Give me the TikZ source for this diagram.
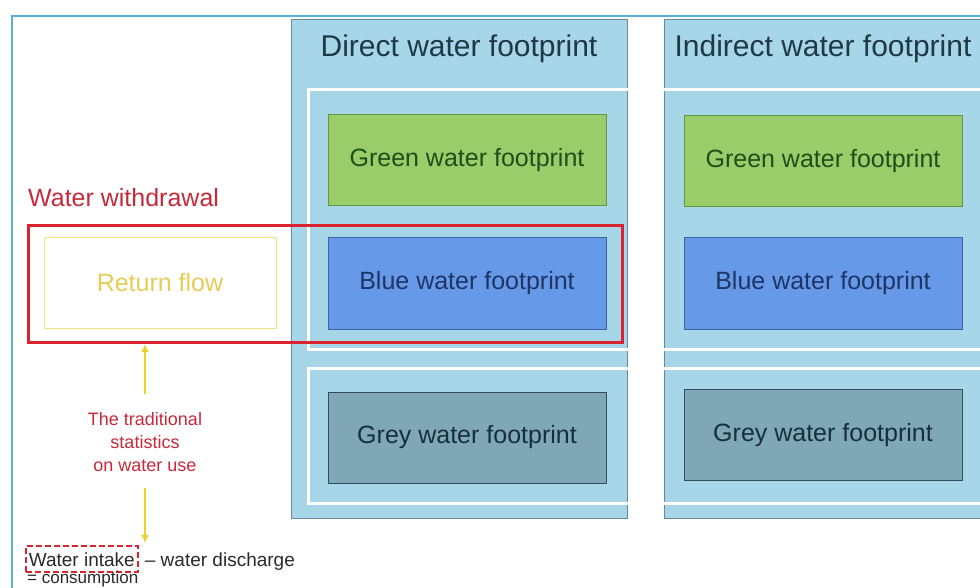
\documentclass[tikz,border=0pt]{standalone}
\usepackage{fontspec}
\setmainfont{Liberation Sans}
\usetikzlibrary{arrows.meta}
\definecolor{colbg}{HTML}{A6D6E8}
\definecolor{colborder}{HTML}{6B8A99}
\definecolor{gfill}{HTML}{9ACD6A}
\definecolor{gborder}{HTML}{5E9A40}
\definecolor{gtext}{HTML}{1F4E1A}
\definecolor{bfill}{HTML}{6699E8}
\definecolor{bborder}{HTML}{3A64A8}
\definecolor{btext}{HTML}{1E3566}
\definecolor{yfill}{HTML}{80A7B5}
\definecolor{yborder}{HTML}{2F4D5E}
\definecolor{ytext}{HTML}{15303C}
\definecolor{ttext}{HTML}{1E3A48}
\definecolor{redline}{HTML}{D9232E}
\definecolor{redtext}{HTML}{C62A3A}
\definecolor{yelline}{HTML}{F2E27A}
\definecolor{yeltext}{HTML}{E6CD55}
\definecolor{yelarrow}{HTML}{F0D030}
\definecolor{frameblue}{HTML}{5AAEE0}
\definecolor{dtext}{HTML}{2A2A2A}
\tikzset{
  colbox/.style={draw=colborder, line width=1pt, fill=colbg},
  whitebox/.style={draw=white, line width=3pt},
  fpbox/.style={rectangle, minimum width=278pt, minimum height=91pt, line width=1pt, inner sep=0pt, font=\fontsize{25}{30}\selectfont},
  greenbox/.style={fpbox, fill=gfill, draw=gborder, text=gtext},
  bluebox/.style={fpbox, fill=bfill, draw=bborder, text=btext},
  greybox/.style={fpbox, fill=yfill, draw=yborder, text=ytext},
  coltitle/.style={anchor=base, text=ttext, font=\fontsize{30}{36}\selectfont, inner sep=0pt},
  yelarr/.style={draw=yelarrow, line width=2pt, -{Latex[length=8pt,width=8pt]}},
  smalltext/.style={font=\fontsize{19}{23}\selectfont, text=dtext, inner sep=0pt}
}
\begin{document}
\begin{tikzpicture}[x=1pt,y=-1pt]
\useasboundingbox (0,0) rectangle (980,588);
\clip (0,0) rectangle (980,588);
\fill[white] (0,0) rectangle (980,588);
% outer frame
\draw[frameblue, line width=2pt] (12,16) rectangle (995,605);
% columns
\draw[colbox] (291,20) rectangle (627,518);
\draw[colbox] (664,20) rectangle (1000,518);
% white group frames
\draw[whitebox] (308,90) rectangle (1010,349);
\draw[whitebox] (308,368) rectangle (1010,503);
% titles
\node[coltitle] (tdirect) at (459,57) {Direct water footprint};
\node[coltitle] (tindirect) at (823,57) {Indirect water footprint};
% footprint boxes
\node[greenbox] (gd) at (467,160.5) {Green water footprint};
\node[bluebox]  (bd) at (467,283.5) {Blue water footprint};
\node[greybox]  (yd) at (467,437.5) {Grey water footprint};
\node[greenbox] (gi) at (823,161) {Green water footprint};
\node[bluebox]  (bi) at (823,283.5) {Blue water footprint};
\node[greybox]  (yi) at (823,435) {Grey water footprint};
% return flow
\node[rectangle, draw=yelline, line width=1pt, minimum width=232pt, minimum height=90pt, inner sep=0pt, text=yeltext, font=\fontsize{25}{30}\selectfont] (ret) at (160,283) {Return flow};
% withdrawal
\node[anchor=base west, text=redtext, font=\fontsize{25}{30}\selectfont, inner sep=0pt] (wlabel) at (28,207) {Water withdrawal};
\draw[redline, line width=3pt] (28,226) rectangle (622,342);
% traditional statistics
\node[align=center, text=redtext, font=\fontsize{18}{23}\selectfont, inner sep=0pt] (trad) at (145,442) {The traditional\\statistics\\on water use};
\coordinate (upstart) at (145,394);
\coordinate (upend) at (145,344);
\coordinate (downstart) at (145,488);
\coordinate (downend) at (145,543);
\draw[yelarr] (upstart) -- (upend);
\draw[yelarr] (downstart) -- (downend);
% bottom formula
\node[smalltext, anchor=base west, draw=redline, dash pattern=on 6pt off 3pt, line width=1.6pt, inner xsep=3pt, inner ysep=0pt, text depth=6pt, text height=20pt] (intake) at (25,566) {Water intake};
\node[smalltext, anchor=base west] (discharge) at ([xshift=3pt]intake.base east) {\,– water discharge};
\node[smalltext, anchor=base west, font=\fontsize{17}{20}\selectfont] (consumption) at (27,583) {= consumption};
\end{tikzpicture}
\end{document}
